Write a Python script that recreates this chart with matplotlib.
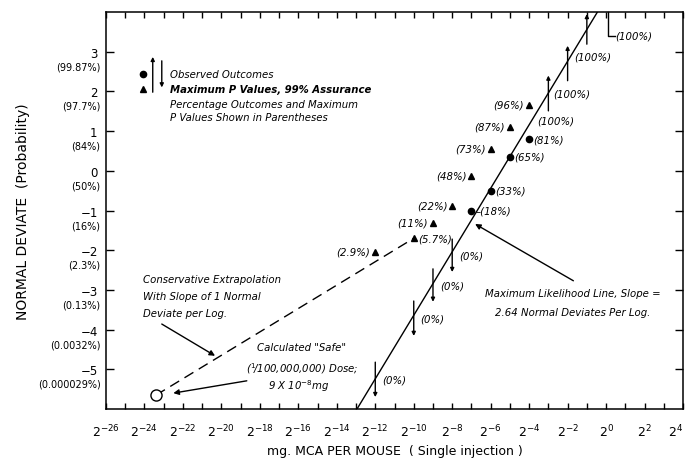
import matplotlib.pyplot as plt
from matplotlib.ticker import MultipleLocator

# observed outcomes: log2(mg per mouse), normal deviate
obs_x = [-4, -5, -6, -7]
obs_y = [0.80, 0.35, -0.50, -1.00]
obs_pct = ['(81%)', '(65%)', '(33%)', '\u2013(18%)']

# maximum P values, 99% assurance
maxp_x = [-4, -5, -6, -7, -8, -9, -10, -12]
maxp_y = [1.66, 1.11, 0.55, -0.12, -0.88, -1.31, -1.70, -2.04]
maxp_pct = ['(96%)', '(87%)', '(73%)', '(48%)', '(22%)', '(11%)', '(5.7%)', '(2.9%)']

# 0% outcomes, arrows pointing down
zero_x = [-8, -9, -10, -12]
zero_top = [-1.72, -2.47, -3.28, -4.82]
zero_bot = [-2.55, -3.30, -4.16, -5.70]

# 100% outcomes, arrows pointing up
full_x = [-3, -2, -1]
full_bot = [1.51, 2.27, 3.19]
full_top = [2.40, 3.15, 3.95]

# maximum likelihood line (2.64 normal deviates per log)
fit_x = [-12.95, -0.45]
fit_y = [-6.0, 4.0]

# calculated "safe" dose, 9e-8 mg
safe_x = -23.4
safe_y = -5.65

ytick_vals = [3, 2, 1, 0, -1, -2, -3, -4, -5]
ytick_pct = ['(99.87%)', '(97.7%)', '(84%)', '(50%)', '(16%)', '(2.3%)',
             '(0.13%)', '(0.0032%)', '(0.000029%)']
xtick_vals = list(range(-26, 5, 2))

plt.rcParams['font.family'] = ['DejaVu Sans']
fig = plt.figure(figsize=(6.87, 4.60), dpi=100)
ax = fig.add_axes([0.1543, 0.1087, 0.8399, 0.863])

it = dict(fontsize=7.3, style='italic', color='black')

# fitted line and conservative extrapolation
ax.plot(fit_x, fit_y, color='black', lw=1.0, zorder=2)
ax.plot([safe_x, maxp_x[6]], [safe_y, maxp_y[6]], color='black', lw=1.0,
        dashes=(7.5, 4.5), zorder=1)

ax.plot(obs_x, obs_y, 'o', color='black', ms=4.5, zorder=3)
ax.plot(maxp_x, maxp_y, '^', color='black', ms=5, zorder=3)
ax.plot([safe_x], [safe_y], 'o', mfc='white', mec='black', mew=1.0, ms=8, zorder=4)

for x, y, t in zip(obs_x, obs_y, obs_pct):
    ax.annotate(t, (x, y), xytext=(3, 0), textcoords='offset points',
                ha='left', va='center', **it)

for x, y, t in zip(maxp_x, maxp_y, maxp_pct):
    if t == '(5.7%)':
        ax.annotate(t, (x, y), xytext=(3.5, 0), textcoords='offset points',
                    ha='left', va='center', **it)
    else:
        ax.annotate(t, (x, y), xytext=(-3.5, 0), textcoords='offset points',
                    ha='right', va='center', **it)

arr = dict(arrowstyle='-|>', color='black', lw=1.0, mutation_scale=5.5,
           shrinkA=0, shrinkB=0)
for x, t, b in zip(zero_x, zero_top, zero_bot):
    ax.annotate('', xy=(x, b), xytext=(x, t), arrowprops=arr)
    ax.annotate('(0%)', (x, (t + b) / 2), xytext=(5, 0), textcoords='offset points',
                ha='left', va='center', **it)

for x, b, t in zip(full_x, full_bot, full_top):
    ax.annotate('', xy=(x, t), xytext=(x, b), arrowprops=arr)
ax.annotate('(100%)', (full_x[0], 1.96), xytext=(3.5, 0), textcoords='offset points',
            ha='left', va='center', **it)
ax.annotate('(100%)', (full_x[0], 1.26), xytext=(-8, 0), textcoords='offset points',
            ha='left', va='center', **it)
ax.annotate('(100%)', (full_x[1], 2.87), xytext=(5, 0), textcoords='offset points',
            ha='left', va='center', **it)
ax.plot([0.12, 0.12, 0.47], [4.0, 3.40, 3.40], color='black', lw=1.0, clip_on=False)
ax.text(0.5, 3.40, '(100%)', ha='left', va='center', **it)

# legend block
ax.plot([-24.09], [2.44], 'o', color='black', ms=4.5)
ax.plot([-24.09], [2.06], '^', color='black', ms=5)
ax.annotate('', xy=(-23.57, 2.87), xytext=(-23.57, 1.98), arrowprops=arr)
ax.annotate('', xy=(-23.10, 2.10), xytext=(-23.10, 2.77), arrowprops=arr)
ax.text(-22.67, 2.44, 'Observed Outcomes', ha='left', va='center', **it)
ax.text(-22.67, 2.06, 'Maximum P Values, 99% Assurance', ha='left', va='center',
        fontweight='bold', **it)
ax.text(-22.67, 1.68, 'Percentage Outcomes and Maximum', ha='left', va='center', **it)
ax.text(-22.67, 1.35, 'P Values Shown in Parentheses', ha='left', va='center', **it)

ax.text(-24.06, -2.60, 'Conservative Extrapolation\nWith Slope of 1 Normal\nDeviate per Log.',
        ha='left', va='top', linespacing=1.9, **it)
ax.annotate('', xy=(-20.33, -4.66), xytext=(-23.10, -3.86),
            arrowprops=dict(arrowstyle='-|>', color='black', lw=1.0, mutation_scale=8,
                            shrinkA=0, shrinkB=0))

ax.text(-15.81, -4.44, 'Calculated "Safe"', ha='center', va='center', **it)
ax.text(-15.81, -4.95, '($^1\\!$/100,000,000) Dose;', ha='center', va='center', **it)
ax.text(-17.6, -5.41, r'9 X 10$^{-8}$mg', ha='left', va='center', **it)
ax.annotate('', xy=(-22.50, -5.60), xytext=(-18.68, -5.29),
            arrowprops=dict(arrowstyle='-|>', color='black', lw=1.0, mutation_scale=8,
                            shrinkA=0, shrinkB=0))

ax.text(-1.72, -3.08, 'Maximum Likelihood Line, Slope =', ha='center', va='center', **it)
ax.text(-1.72, -3.56, '2.64 Normal Deviates Per Log.', ha='center', va='center', **it)
ax.annotate('', xy=(-6.81, -1.34), xytext=(-1.70, -2.77),
            arrowprops=dict(arrowstyle='-|>', color='black', lw=1.0, mutation_scale=8,
                            shrinkA=0, shrinkB=0))

ax.set_xlim(-26, 4)
ax.set_ylim(-6, 4)
ax.set_xticks(xtick_vals)
ax.set_xticklabels(['$2^{%d}$' % v for v in xtick_vals], fontsize=9)
ax.get_xticklabels()[-1].set_horizontalalignment('right')
ax.xaxis.set_minor_locator(MultipleLocator(1))
ax.set_yticks(ytick_vals)
ax.set_yticklabels(['\u2212%d' % -v if v < 0 else '%d' % v for v in ytick_vals], fontsize=8.5)
ax.tick_params(axis='x', which='both', direction='in', top=True, length=4, width=1, pad=10)
ax.tick_params(axis='y', direction='in', right=True, length=6, width=1, pad=6)
for v, p in zip(ytick_vals, ytick_pct):
    ax.annotate(p, (0, v), xycoords=('axes fraction', 'data'), xytext=(-4, -10.5),
                textcoords='offset points', ha='right', va='center', fontsize=7)
for s in ax.spines.values():
    s.set_linewidth(1.1)

ax.set_xlabel('mg. MCA PER MOUSE  ( Single injection )', fontsize=9, labelpad=3)
ax.set_ylabel('NORMAL DEVIATE  (Probability)', fontsize=10, labelpad=36)

fig.savefig('out.png', dpi=100)
